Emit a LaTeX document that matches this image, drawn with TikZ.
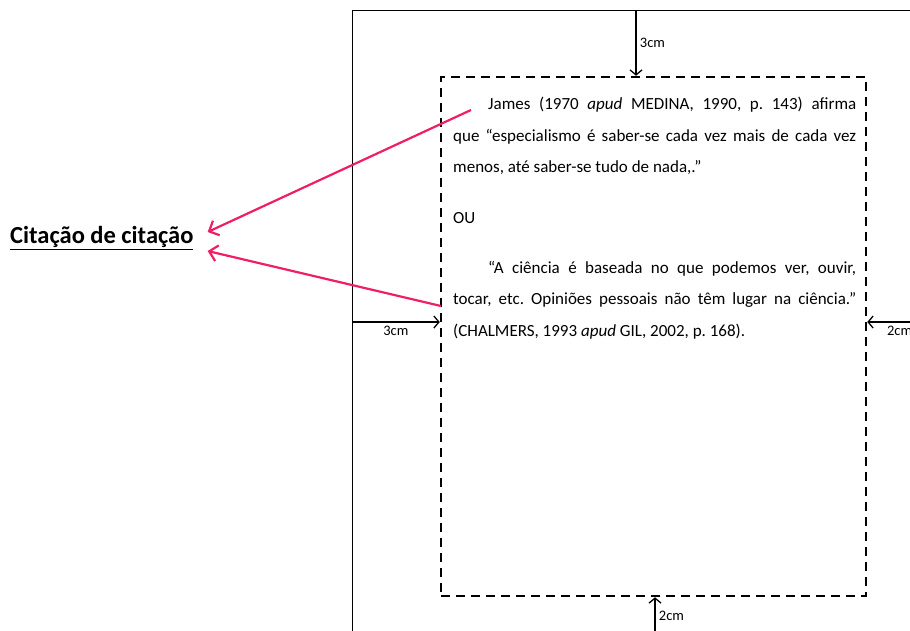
\documentclass[tikz,border=0pt]{standalone}
\usepackage{fontspec}
\setmainfont{Carlito}
\usetikzlibrary{arrows.meta}
\definecolor{citpink}{RGB}{240,30,100}
\begin{document}
\begin{tikzpicture}[x=1pt,y=-1pt]
\tikzset{margem/.style={line width=1.3pt,-{Straight Barb[length=5pt,width=12pt]},font=\fontsize{14.5}{16}\selectfont},
  mancha/.style={draw,line width=2.5pt,dash pattern=on 9pt off 6pt,minimum width=425pt,minimum height=519pt,inner sep=0pt},
  texto/.style={text width=403pt,align=justify,inner sep=0pt,font=\fontsize{17}{31.5}\selectfont\frenchspacing},
  citacao/.style={line width=2.2pt,color=citpink,-{Straight Barb[length=8pt,width=16pt]}}}
\useasboundingbox (0,0) rectangle (910,630);
\coordinate (pagetl) at (352,10);
\draw [line width=0.8pt] (352,640) -- (pagetl) -- (940,10);
\node [mancha] (area) at (653.5,336.5) {};
\coordinate (ptop) at (636,10);
\coordinate (pleft) at (352,322);
\coordinate (pright) at (932,322);
\coordinate (pbottom) at (655,634);
\draw [margem] (ptop) -- (ptop |- area.north) node[right,midway]{3cm};
\draw [margem] (pleft) -- (pleft -| area.west) node[below,midway]{3cm};
\draw [margem] (pright) -- (pright -| area.east) node[below,midway]{2cm};
\draw [margem] (pbottom) -- (pbottom |- area.south) node[right,midway]{2cm};
\node [texto,anchor=north west] (cit1) at (453,97) {\hspace*{35pt}James (1970 \textit{apud} MEDINA, 1990, p. 143) afirma\linebreak que “especialismo é saber-se cada vez mais de cada vez\linebreak menos, até saber-se tudo de nada,.”};
\node [texto,anchor=north west] (ou) at (453,212) {OU};
\node [texto,anchor=north west] (cit2) at (453,261) {\hspace*{35pt}“A ciência é baseada no que podemos ver, ouvir,\linebreak tocar, etc. Opiniões pessoais não têm lugar na ciência.”\linebreak (CHALMERS, 1993 \textit{apud} GIL, 2002, p. 168).};
\node [anchor=west,inner sep=0pt,font=\fontsize{24.5}{28}\selectfont\bfseries] (titulo) at (10,238) {\underline{Citação de citação}};
\coordinate (c1) at (471,110);
\coordinate (c2) at (441,306);
\draw [citacao] (c1) -- ([shift={(14,-6)}]titulo.east);
\draw [citacao] (c2) -- ([shift={(14,13)}]titulo.east);
\end{tikzpicture}
\end{document}
